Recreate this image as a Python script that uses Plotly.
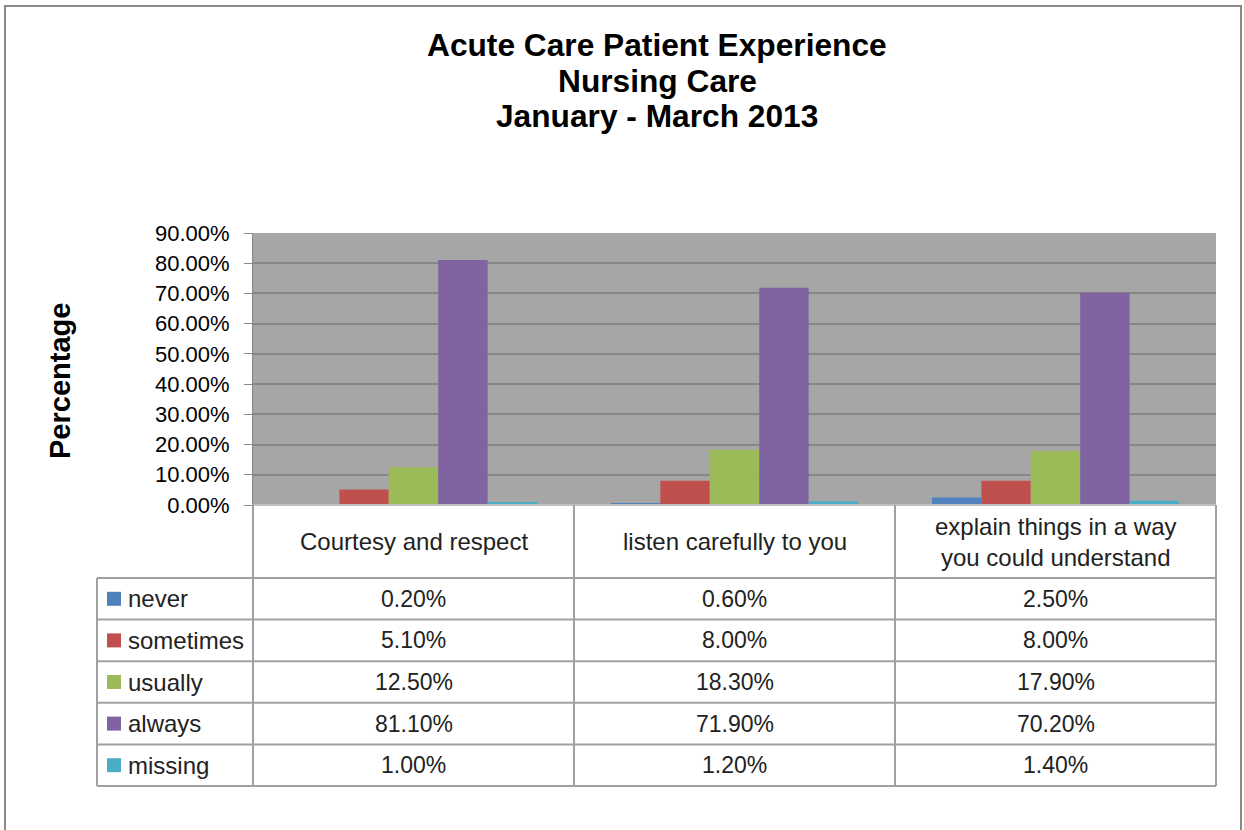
import plotly.graph_objects as go

# data (percent)
categories = ["Courtesy and respect", "listen carefully to you",
              "explain things in a way you could understand"]
header_labels = ["Courtesy and respect", "listen carefully to you",
                 "explain things in a way<br>you could understand"]
series_names = ["never", "sometimes", "usually", "always", "missing"]
never = [0.2, 0.6, 2.5]
sometimes = [5.1, 8.0, 8.0]
usually = [12.5, 18.3, 17.9]
always = [81.1, 71.9, 70.2]
missing = [1.0, 1.2, 1.4]
series_values = [never, sometimes, usually, always, missing]
colors = ["#4F81BD", "#C0504D", "#9BBB59", "#8064A2", "#4BACC6"]
y_ticks = [0, 10, 20, 30, 40, 50, 60, 70, 80, 90]

W, H = 1244, 830
FONT = "Liberation Sans"
GRID = "#878787"
TABLE_LINE = "#A0A0A0"


def px(x):
    return x / W


def py(y):
    return 1 - y / H


# table geometry (pixels -> table axis units)
col_w = (1216 - 253) / 3
row_h = (786 - 578) / 5
hdr = (578 - 505) / row_h


def tx(p):
    return (p - 253) / col_w - 0.5


def ty(p):
    return (578 - p) / row_h


label_left = tx(97)

fig = go.Figure()

for name, vals, col in zip(series_names, series_values, colors):
    fig.add_trace(go.Bar(
        x=categories, y=[v / 100 for v in vals], name=name,
        marker=dict(color=col, line=dict(width=0)),
        xaxis="x", yaxis="y",
    ))

shapes = []
annotations = []

# grey plot area behind the bars only
shapes.append(dict(type="rect", xref="x domain", yref="y domain", x0=0, x1=1, y0=0, y1=1,
                   layer="below", fillcolor="#A6A6A6", line=dict(width=0)))

# table grid
for k in range(6):
    shapes.append(dict(type="line", xref="x2", yref="y2", x0=label_left, x1=2.5,
                       y0=-k, y1=-k, line=dict(color=TABLE_LINE, width=2)))
shapes.append(dict(type="line", xref="x2", yref="y2", x0=-0.5, x1=2.5,
                   y0=hdr, y1=hdr, line=dict(color="#BFBFBF", width=2)))
for xv in [-0.5, 0.5, 1.5, 2.5]:
    shapes.append(dict(type="line", xref="x2", yref="y2", x0=xv, x1=xv,
                       y0=-5, y1=hdr, line=dict(color=TABLE_LINE, width=2)))
shapes.append(dict(type="line", xref="x2", yref="y2", x0=label_left, x1=label_left,
                   y0=-5, y1=0, line=dict(color=TABLE_LINE, width=2)))

# header row
for i, lab in enumerate(header_labels):
    annotations.append(dict(xref="x2", yref="y2", x=i, y=hdr / 2, text=lab,
                            showarrow=False, font=dict(family=FONT, size=24, color="#222"),
                            xanchor="center", yanchor="middle"))

# data rows with legend keys
for k, (name, vals, col) in enumerate(zip(series_names, series_values, colors)):
    yc = -k - 0.5
    shapes.append(dict(type="rect", xref="x2", yref="y2", x0=tx(107), x1=tx(121),
                       y0=yc - 7 / row_h, y1=yc + 7 / row_h,
                       fillcolor=col, line=dict(width=0)))
    annotations.append(dict(xref="x2", yref="y2", x=tx(126), y=yc, text=name,
                            showarrow=False, font=dict(family=FONT, size=24, color="#222"),
                            xanchor="left", yanchor="middle"))
    for i, v in enumerate(vals):
        annotations.append(dict(xref="x2", yref="y2", x=i, y=yc, text=f"{v:.2f}%",
                                showarrow=False, font=dict(family=FONT, size=23, color="#222"),
                                xanchor="center", yanchor="middle"))

# title
for text, yc in zip(["Acute Care Patient Experience", "Nursing Care", "January - March 2013"],
                    [45, 81, 116]):
    annotations.append(dict(xref="paper", yref="paper", x=px(657), y=py(yc), text=f"<b>{text}</b>",
                            showarrow=False, font=dict(family=FONT, size=31.7, color="black"),
                            xanchor="center", yanchor="middle"))

# y axis title
annotations.append(dict(xref="paper", yref="paper", x=px(60), y=py(381), text="<b>Percentage</b>",
                        showarrow=False, textangle=-90,
                        font=dict(family=FONT, size=29, color="black"),
                        xanchor="center", yanchor="middle"))

# outer chart border
shapes.append(dict(type="rect", xref="paper", yref="paper", x0=px(5), x1=px(1241),
                   y0=py(835), y1=py(6), line=dict(color="#898989", width=2)))

fig.update_layout(
    width=W, height=H,
    margin=dict(l=0, r=0, t=0, b=0, autoexpand=False),
    paper_bgcolor="white",
    plot_bgcolor="rgba(0,0,0,0)",
    showlegend=False,
    bargap=0.23, bargroupgap=0,
    barmode="group",
    xaxis=dict(domain=[px(253), px(1216)], showticklabels=False, ticks="",
               showgrid=False, zeroline=False, showline=False, fixedrange=True,
               automargin=False),
    yaxis=dict(domain=[py(505), py(233)], range=[0, 0.9],
               tickvals=[t / 100 for t in y_ticks], tickformat=".2%",
               tickfont=dict(family=FONT, size=22, color="black"),
               ticklabelstandoff=10,
               showgrid=True, gridcolor=GRID, gridwidth=2,
               zeroline=False, showline=True, linecolor=GRID, linewidth=1,
               ticks="outside", ticklen=8, tickcolor=GRID, fixedrange=True,
               automargin=False),
    xaxis2=dict(domain=[px(93), px(1220)], range=[tx(93), tx(1220)], anchor="y2",
                visible=False, fixedrange=True, automargin=False),
    yaxis2=dict(domain=[py(790), py(501)], range=[ty(790), ty(501)], anchor="x2",
                visible=False, fixedrange=True, automargin=False),
    shapes=shapes,
    annotations=annotations,
)

fig.write_html("out.html", config={"displayModeBar": False},
               post_script="document.body.style.margin = '0';")
